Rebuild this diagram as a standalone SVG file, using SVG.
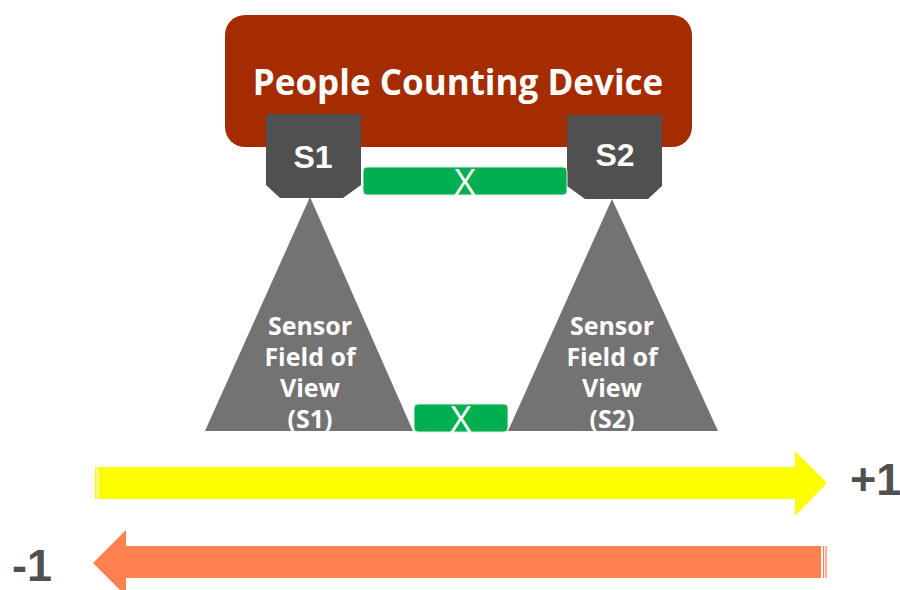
<svg xmlns="http://www.w3.org/2000/svg" width="900" height="590" viewBox="0 0 900 590">
<style>
.sensor{fill:#505050}
.fov{fill:#737373}
.gbox{fill:#00B050;stroke:#e8e8e8;stroke-width:1}
.xt{font-family:"Open Sans","Liberation Sans",sans-serif;font-size:37px;fill:#fff;text-anchor:middle}
.st{font-family:"Liberation Sans",Arial,sans-serif;font-weight:bold;font-size:32px;fill:#fff;text-anchor:middle}
.ft{font-family:"Open Sans","Liberation Sans",sans-serif;font-weight:bold;font-size:25px;fill:#fff;text-anchor:middle}
.num{font-family:"Liberation Sans",Arial,sans-serif;font-weight:bold;font-size:45px;fill:#505050}
</style>
<defs>
<clipPath id="baseClip"><rect x="0" y="0" width="900" height="431"/></clipPath>
</defs>
<rect width="900" height="590" fill="#fff"/>
<g id="device">
<rect x="225" y="15" width="467" height="132" rx="20" fill="#A52C00"/>
<text x="458" y="95" font-family="'Open Sans','Liberation Sans',sans-serif" font-weight="bold" font-size="35" fill="#fff" text-anchor="middle">People Counting Device</text>
</g>
<g id="fov1">
<polygon class="fov" points="310,197 413,431 205,431"/>
<g clip-path="url(#baseClip)">
<text class="ft" x="310" y="335">Sensor</text>
<text class="ft" x="310" y="366">Field of</text>
<text class="ft" x="310" y="397">View</text>
<text class="ft" x="310" y="428">(S1)</text>
</g>
</g>
<g id="fov2">
<polygon class="fov" points="612,199 718,431 508,431"/>
<g clip-path="url(#baseClip)">
<text class="ft" x="612" y="335">Sensor</text>
<text class="ft" x="612" y="366">Field of</text>
<text class="ft" x="612" y="397">View</text>
<text class="ft" x="612" y="428">(S2)</text>
</g>
</g>
<g id="s1">
<polygon class="sensor" points="266,114 361,114 361,185 343,198 280,198 266,185"/>
<text class="st" x="313" y="168">S1</text>
</g>
<g id="s2">
<polygon class="sensor" points="567,115 662,115 662,186 648,199 585,199 567,186"/>
<text class="st" x="615" y="166">S2</text>
</g>
<g id="gap-top">
<rect class="gbox" x="363" y="167" width="204" height="28" rx="4"/>
<text class="xt" x="465" y="195">X</text>
</g>
<g id="gap-bottom">
<rect class="gbox" x="414" y="404" width="94" height="28" rx="4"/>
<text class="xt" x="461" y="432">X</text>
</g>
<g id="connectors">
<g id="arrow-in">
<rect x="95" y="467" width="1.2" height="32" fill="#FFFF00"/>
<rect x="97" y="467" width="1.2" height="32" fill="#FFFF00"/>
<polygon fill="#FFFF00" points="99,467 795,467 795,451 827,483 795,516 795,499 99,499"/>
</g>
<g id="arrow-out">
<rect x="825.5" y="546" width="1.2" height="32" fill="#FF8050"/>
<rect x="823" y="546" width="1.2" height="32" fill="#FF8050"/>
<polygon fill="#FF8050" points="821,546 126,546 126,530 93,563 126,596 126,578 821,578"/>
</g>
</g>
<text class="num" x="850" y="495">+1</text>
<text class="num" x="12" y="581">-1</text>
</svg>
